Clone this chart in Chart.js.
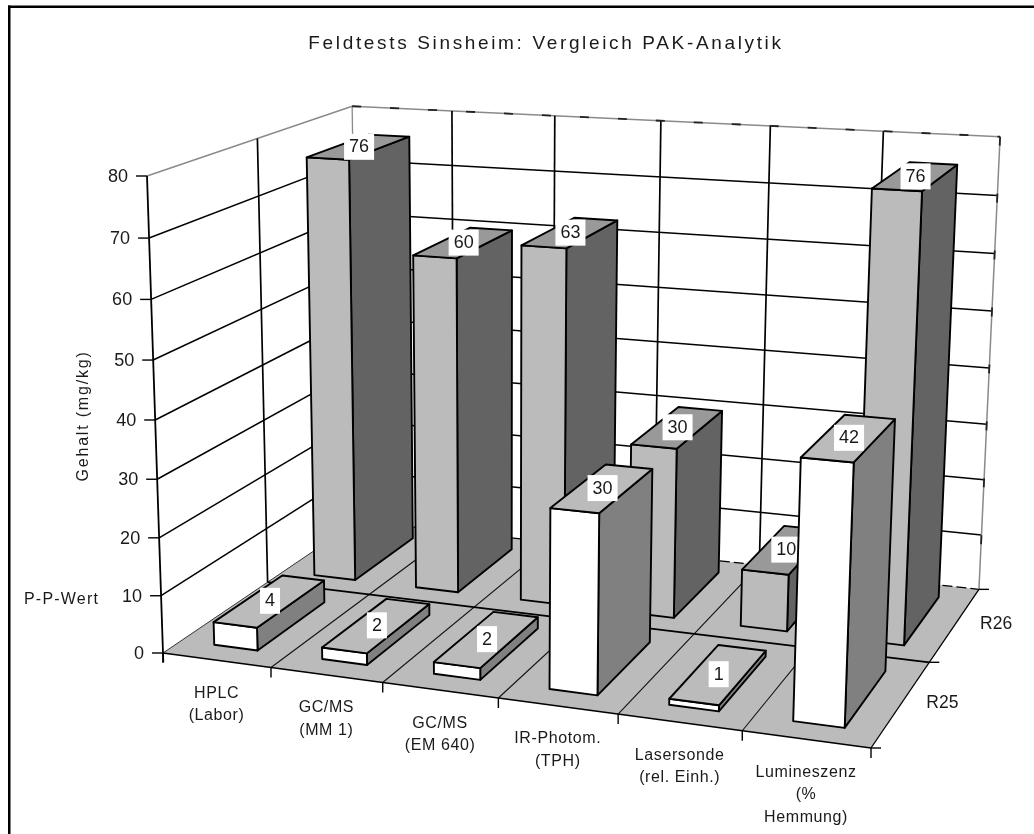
<!DOCTYPE html>
<html>
<head>
<meta charset="utf-8">
<title>Feldtests Sinsheim</title>
<script src="https://cdn.jsdelivr.net/npm/chart.js@4"></script>
<style>
    html, body { margin: 0; padding: 0; background: #fff; }
    canvas { display: block; }
</style>
</head>
<body>
<canvas id="chart3d" width="1034" height="834"></canvas>
<script>
const categories = [
    ['HPLC', '(Labor)'],
    ['GC/MS', '(MM 1)'],
    ['GC/MS', '(EM 640)'],
    ['IR-Photom.', '(TPH)'],
    ['Lasersonde', '(rel. Einh.)'],
    ['Lumineszenz', '(%', 'Hemmung)'],
];
const seriesNames = ['R25', 'R26'];
const valuesR25 = [4, 2, 2, 30, 1, 42];
const valuesR26 = [76, 60, 63, 30, 10, 76];

// bar colours, front/side/top per series
const faceColors = {
    R25: { front: '#ffffff', side: '#808080', top: '#bbbbbb' },
    R26: { front: '#bbbbbb', side: '#636363', top: '#999999' },
};
const TEXT = '#1a1a1a';
const FONT = '"Liberation Sans", Arial, sans-serif';

// camera: where the box corners land, plus perspective terms along each axis
const camera = {
    origin: [163, 653], right: [871, 748], back: [358, 521], up: [147, 176],
    pu: -0.1, pv: 0.1576, pw: -0.045,
};

function project(u, v, w) {
    const c = camera;
    const d = 1 + c.pu * u + c.pv * v + c.pw * w;
    const px = (i) => c.origin[i]
        + ((1 + c.pu) * c.right[i] - c.origin[i]) * u
        + ((1 + c.pv) * c.back[i] - c.origin[i]) * v
        + ((1 + c.pw) * c.up[i] - c.origin[i]) * w;
    return { x: px(0) / d, y: px(1) / d };
}

function line(ctx, a, b, color, width) {
    ctx.strokeStyle = color;
    ctx.lineWidth = width;
    ctx.beginPath();
    ctx.moveTo(a.x, a.y);
    ctx.lineTo(b.x, b.y);
    ctx.stroke();
}

function face(ctx, pts, fill) {
    ctx.beginPath();
    pts.forEach((p, i) => (i ? ctx.lineTo(p.x, p.y) : ctx.moveTo(p.x, p.y)));
    ctx.closePath();
    ctx.fillStyle = fill;
    ctx.fill();
    ctx.strokeStyle = '#000';
    ctx.lineWidth = 1.9;
    ctx.lineJoin = 'round';
    ctx.stroke();
}

function text(ctx, str, x, y, font, align, spacing) {
    ctx.font = font;
    ctx.textAlign = align || 'center';
    ctx.textBaseline = 'middle';
    ctx.letterSpacing = spacing || '0px';
    ctx.fillStyle = TEXT;
    ctx.fillText(str, x, y);
    ctx.letterSpacing = '0px';
}

// scale positions as 0..1 fractions of the box
function fractions(chart) {
    const sx = chart.scales.x, sy = chart.scales.y, sd = chart.scales.depth;
    return {
        u: (i) => (sx.getPixelForValue(i - 0.5) - sx.left) / sx.width,
        v: (i) => (sd.getPixelForValue(i - 0.5) - sd.left) / sd.width,
        w: (val) => (sy.bottom - sy.getPixelForValue(val)) / sy.height,
    };
}

const chartFrame = {
    id: 'chartFrame',
    beforeDraw(chart) {
        const ctx = chart.ctx;
        ctx.fillStyle = '#000';
        ctx.fillRect(8, 5.5, 2.5, 834);
        ctx.fillRect(8, 5.5, 1034, 2.5);
        ctx.letterSpacing = '2.65px'; // for the title
    },
    beforeDatasetsDraw(chart) {
        chart.ctx.letterSpacing = '0px';
    },
};

const box3d = {
    id: 'box3d',
    beforeDatasetsDraw(chart) {
        const ctx = chart.ctx;
        const f = fractions(chart);
        const ticks = chart.scales.y.ticks.map((t) => t.value);
        ctx.save();

        // walls
        ticks.forEach((val) => {
            const w = f.w(val);
            const top = val === ticks[ticks.length - 1];
            const color = top ? '#8a8a8a' : '#000';
            if (val === 0) return;
            line(ctx, project(0, 0, w), project(0, 1, w), color, 1.5);
            line(ctx, project(0, 1, w), project(1, 1, w), color, 1.5);
        });
        line(ctx, project(0, 0.5, 0), project(0, 0.5, 1), '#000', 1.7);
        categories.forEach((c, i) => {
            if (i > 0) line(ctx, project(f.u(i), 1, 0), project(f.u(i), 1, 1), '#000', 1.7);
        });
        line(ctx, project(0, 1, 0), project(0, 1, 1), '#8a8a8a', 1.3);
        line(ctx, project(1, 1, 0), project(1, 1, 1), '#8a8a8a', 1.5);
        ctx.setLineDash([9, 29]);
        line(ctx, project(0, 1, 1), project(1, 1, 1), '#222', 1.8);
        ctx.setLineDash([9, 48]);
        line(ctx, project(1, 1, 1), project(1, 1, 0), '#222', 1.8);
        ctx.setLineDash([]);

        // floor
        ctx.beginPath();
        [[0, 0], [1, 0], [1, 1], [0, 1]].forEach(([u, v], i) => {
            const p = project(u, v, 0);
            if (i) ctx.lineTo(p.x, p.y); else ctx.moveTo(p.x, p.y);
        });
        ctx.closePath();
        ctx.fillStyle = '#bbbbbb';
        ctx.fill();
        categories.forEach((c, i) => {
            if (i > 0) line(ctx, project(f.u(i), 0, 0), project(f.u(i), 1, 0), '#111', 1.1);
        });
        line(ctx, project(0, 0, 0), project(0, 1, 0), '#333', 1);
        line(ctx, project(0, 0.5, 0), project(1, 0.5, 0), '#000', 1.7);
        ctx.setLineDash([10, 4]);
        line(ctx, project(0, 1, 0), project(1, 1, 0), '#000', 1.3);
        ctx.setLineDash([]);

        // bars, back row first, left to right
        [1, 0].forEach((row) => {
            const name = seriesNames[row];
            const colors = faceColors[name];
            const vals = chart.data.datasets[row].data;
            const v0 = f.v(row) + 0.083, v1 = f.v(row) + 0.417;
            vals.forEach((val, i) => {
                const cell = f.u(i + 1) - f.u(i);
                const u0 = f.u(i) + 0.31 * cell, u1 = f.u(i) + 0.715 * cell;
                const w = f.w(val);
                face(ctx, [project(u1, v0, 0), project(u1, v1, 0), project(u1, v1, w), project(u1, v0, w)], colors.side);
                face(ctx, [project(u0, v0, 0), project(u1, v0, 0), project(u1, v0, w), project(u0, v0, w)], colors.front);
                face(ctx, [project(u0, v0, w), project(u1, v0, w), project(u1, v1, w), project(u0, v1, w)], colors.top);

                const c = project((u0 + u1) / 2, (v0 + v1) / 2, w);
                const str = String(val);
                ctx.font = '18px ' + FONT;
                const bw = ctx.measureText(str).width + 10;
                ctx.fillStyle = '#fff';
                ctx.fillRect(c.x - bw / 2, c.y - 13, bw, 26);
                text(ctx, str, c.x, c.y + 0.5, '18px ' + FONT);
            });
        });

        // front edge, right edge, axes and ticks
        line(ctx, project(0, 0, 0), project(1, 0, 0), '#000', 1.7);
        line(ctx, project(1, 0, 0), project(1, 1, 0), '#000', 1.3);
        for (let i = 0; i <= categories.length; i++) {
            const p = project(f.u(i), 0, 0);
            line(ctx, p, { x: p.x, y: p.y + 10 }, '#000', 1.4);
        }
        [0, 0.5, 1].forEach((v) => {
            const p = project(1, v, 0);
            line(ctx, p, { x: p.x + 10, y: p.y }, '#000', 1.4);
        });
        const foot = project(0, 0, 0);
        line(ctx, project(0, 0, 1), { x: foot.x + 0.3, y: foot.y + 9 }, '#000', 1.8);
        ticks.forEach((val) => {
            const p = project(0, 0, f.w(val));
            line(ctx, { x: p.x - 11, y: p.y }, { x: p.x, y: p.y }, '#000', 1.4);
            text(ctx, String(val), p.x - 19, p.y + 1, '18px ' + FONT, 'right');
        });

        // category and depth labels
        categories.forEach((lines, i) => {
            const p = project((f.u(i) + f.u(i + 1)) / 2, 0, 0);
            lines.forEach((str, n) => {
                text(ctx, str, p.x, p.y + 33 + n * 22.5, '16px ' + FONT, 'center', '0.6px');
            });
        });
        seriesNames.forEach((name, row) => {
            const p = project(1, f.v(row) + 0.25, 0);
            text(ctx, name, p.x + 41, p.y, '17.5px ' + FONT);
        });

        text(ctx, 'P-P-Wert', 24, 600, '16px ' + FONT, 'left', '1.2px');
        ctx.translate(84, 416);
        ctx.rotate(-Math.PI / 2);
        text(ctx, 'Gehalt (mg/kg)', 0, 0, '16px ' + FONT, 'center', '1.8px');
        ctx.restore();
    },
};

new Chart(document.getElementById('chart3d'), {
    type: 'bar',
    data: {
        labels: categories,
        datasets: [
            { label: seriesNames[0], data: valuesR25, backgroundColor: 'rgba(0,0,0,0)', borderWidth: 0 },
            { label: seriesNames[1], data: valuesR26, backgroundColor: 'rgba(0,0,0,0)', borderWidth: 0 },
        ],
    },
    options: {
        responsive: false,
        animation: false,
        events: [],
        layout: { padding: { left: 58 } },
        plugins: {
            legend: { display: false },
            tooltip: { enabled: false },
            title: {
                display: true,
                text: 'Feldtests Sinsheim: Vergleich PAK-Analytik',
                color: TEXT,
                font: { family: FONT, size: 19, weight: 'normal' },
                padding: { top: 32, bottom: 40 },
            },
        },
        scales: {
            x: { display: false, offset: true },
            y: { display: false, min: 0, max: 80, ticks: { stepSize: 10 } },
            depth: { type: 'category', axis: 'x', display: false, offset: true, labels: seriesNames },
        },
    },
    plugins: [chartFrame, box3d],
});
</script>
</body>
</html>
